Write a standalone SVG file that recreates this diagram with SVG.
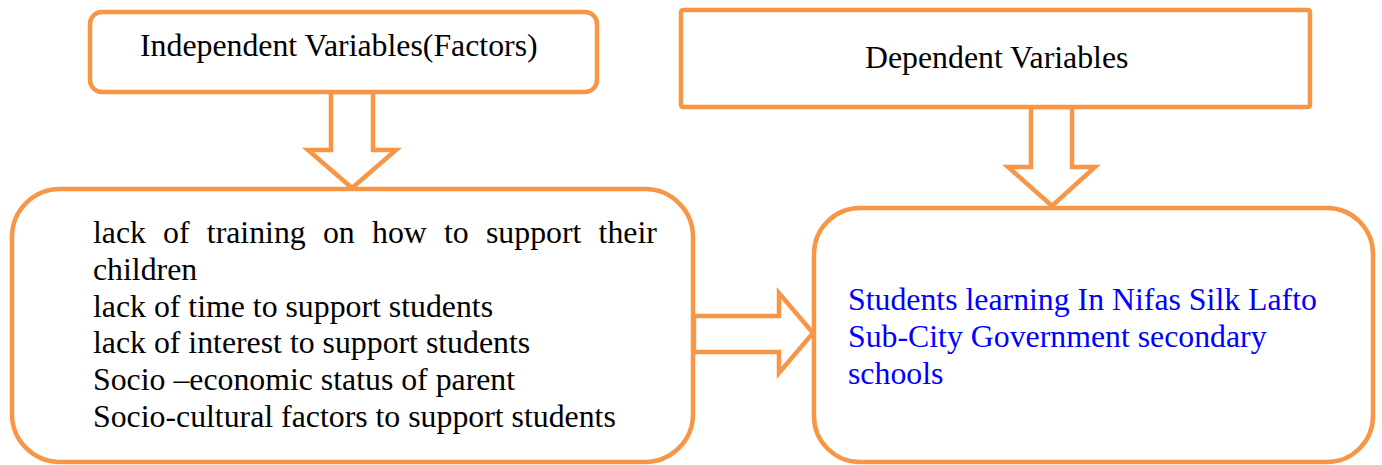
<svg xmlns="http://www.w3.org/2000/svg" width="1382" height="465" viewBox="0 0 1382 465">
<style>
.box{fill:#fff;stroke:#F79646;stroke-width:4.5}
.arrow{fill:#fff;stroke:#F79646;stroke-width:4.5;stroke-linejoin:miter}
.t{font-family:"Liberation Serif","Times New Roman",serif;font-size:31.8px;fill:#000}
.blue{fill:#0000FF}
</style>
<rect width="1382" height="465" fill="#fff"/>
<g id="connectors">
<polygon class="arrow" points="331,92 331,150 308,150 352,188 396,150 373,150 373,92"/>
<polygon class="arrow" points="1031,107 1031,167 1008,167 1052,206 1095,167 1072,167 1072,107"/>
<polygon class="arrow" points="694,316 779,316 779,293 813,333 779,373 779,352 694,352"/>
</g>
<g id="independent">
<rect class="box" x="90" y="12" width="507" height="80" rx="12"/>
<text class="t" x="140" y="56">Independent Variables(Factors)</text>
</g>
<g id="dependent">
<rect class="box" x="681" y="10" width="629" height="97" rx="2"/>
<text class="t" x="865" y="68">Dependent Variables</text>
</g>
<g id="factors">
<rect class="box" x="12" y="189" width="681" height="273" rx="48"/>
<text class="t" y="243"><tspan x="93">lack</tspan><tspan x="163.1">of</tspan><tspan x="206.8">training</tspan><tspan x="322.9">on</tspan><tspan x="372">how</tspan><tspan x="444">to</tspan><tspan x="486">support</tspan><tspan x="598.6">their</tspan></text>
<text class="t" x="93" y="279.8">children</text>
<text class="t" x="93" y="316.6">lack of time to support students</text>
<text class="t" x="93" y="353.4">lack of interest to support students</text>
<text class="t" x="93" y="390.2">Socio –economic status of parent</text>
<text class="t" x="93" y="427">Socio-cultural factors to support students</text>
</g>
<g id="outcome">
<rect class="box" x="814" y="208" width="559" height="254" rx="46"/>
<text class="t blue" x="848" y="310">Students learning In Nifas Silk Lafto</text>
<text class="t blue" x="848" y="346.8">Sub-City Government secondary</text>
<text class="t blue" x="848" y="383.6">schools</text>
</g>
</svg>
